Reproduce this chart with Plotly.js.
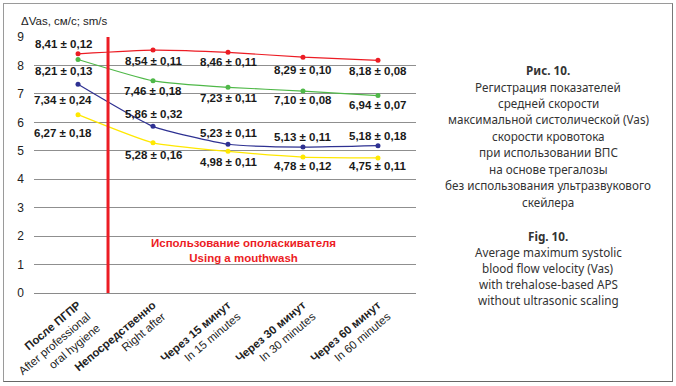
<!DOCTYPE html>
<html><head><meta charset="utf-8">
<script src="https://cdn.plot.ly/plotly-3.0.1.min.js"></script>
<style>
html,body{margin:0;padding:0;background:#fff;}
#chart{width:676px;height:386px;}
#frame{position:absolute;left:3px;top:3px;width:668px;height:377px;border:1.5px solid #9a9a9a;border-right-color:#777;border-bottom-color:#666;pointer-events:none;}
</style></head>
<body>
<div id="chart"></div>
<div id="frame"></div>
<script>
// ---- data ----
const categories = [
  "<b>После ПГПР</b><br>After professional<br>oral hygiene",
  "<b>Непосредственно</b><br>Right after",
  "<b>Через 15 минут</b><br>In 15 minutes",
  "<b>Через 30 минут</b><br>In 30 minutes",
  "<b>Через 60 минут</b><br>In 60 minutes"
];
const redMean    = [8.41, 8.54, 8.46, 8.29, 8.18];
const redSD      = [0.12, 0.11, 0.11, 0.10, 0.08];
const greenMean  = [8.21, 7.46, 7.23, 7.10, 6.94];
const greenSD    = [0.13, 0.18, 0.11, 0.08, 0.07];
const blueMean   = [7.34, 5.86, 5.23, 5.13, 5.18];
const blueSD     = [0.24, 0.32, 0.11, 0.11, 0.18];
const yellowMean = [6.27, 5.28, 4.98, 4.78, 4.75];
const yellowSD   = [0.18, 0.16, 0.11, 0.12, 0.11];
const yTicks = [0,1,2,3,4,5,6,7,8,9];
const yTitle = "ΔVas, см/с; sm/s";
const noteLines = ["Использование ополаскивателя", "Using a mouthwash"];
const captionRu = ["<b>Рис. 10.</b>", "Регистрация показателей", "средней скорости",
  "максимальной систолической (Vas)", "скорости кровотока", "при использовании ВПС",
  "на основе трегалозы", "без использования ультразвукового", "скейлера"];
const captionEn = ["<b>Fig. 10.</b>", "Average maximum systolic", "blood flow velocity (Vas)",
  "with trehalose-based APS", "without ultrasonic scaling"];

// ---- styling ----
const series = [
  {mean: redMean, sd: redSD, color: "#ec1c24", shifts: [10, -11, -10, -13, -11]},
  {mean: greenMean, sd: greenSD, color: "#4fb848", shifts: [-12, -10, -11, -9, -9]},
  {mean: blueMean, sd: blueSD, color: "#2e3192", shifts: [-16, 12, 11, 10, 10]},
  {mean: yellowMean, sd: yellowSD, color: "#ffe800", shifts: [-18, -12, -11, -9, -8]}
];
const fmt = v => v.toFixed(2).replace(".", ",");
const L = 34, R = 416, T = 37, B = 293;
const px2x = px => (px - L) / (R - L);
const px2y = py => (B - py) / (B - T);

const traces = series.map(s => ({
  x: categories, y: s.mean, type: "scatter", mode: "lines+markers",
  line: {color: s.color, width: 1.2, shape: "spline", smoothing: 0.5},
  marker: {color: s.color, size: 5}, hoverinfo: "skip", showlegend: false
}));

const annotations = [];
series.forEach(s => {
  s.mean.forEach((v, i) => {
    annotations.push({
      x: categories[i], y: v, xref: "x", yref: "y",
      text: "<b>" + fmt(v) + " ± " + fmt(s.sd[i]) + "</b>",
      showarrow: false, xanchor: "center", yanchor: "middle",
      xshift: i === 0 ? -15 : 0, yshift: s.shifts[i],
      font: {family: "Liberation Sans, Arial", size: 11.5, color: "#1a1a1a"}
    });
  });
});
annotations.push({
  xref: "paper", yref: "paper", x: px2x(243), y: px2y(250),
  text: "<b>" + noteLines.join("<br>") + "</b>", showarrow: false,
  xanchor: "center", yanchor: "middle",
  font: {family: "Liberation Sans, Arial", size: 11.5, color: "#ec1c24"}
});
annotations.push({
  xref: "paper", yref: "paper", x: px2x(19), y: px2y(21),
  text: yTitle, showarrow: false, xanchor: "left", yanchor: "middle",
  font: {family: "Liberation Sans, Arial", size: 11.5, color: "#222"}
});
const capX = 548;
const capY = [70, 87, 103, 119, 136, 152, 169, 185, 202];
captionRu.forEach((t, i) => annotations.push({
  xref: "paper", yref: "paper", x: px2x(capX), y: px2y(capY[i]), text: t,
  showarrow: false, xanchor: "center", yanchor: "middle",
  font: {family: "Noto Sans", size: 11.7, color: "#333"}
}));
const capY2 = [236, 252, 268, 284, 300];
captionEn.forEach((t, i) => annotations.push({
  xref: "paper", yref: "paper", x: px2x(capX), y: px2y(capY2[i]), text: t,
  showarrow: false, xanchor: "center", yanchor: "middle",
  font: {family: "Noto Sans", size: 11.7, color: "#333"}
}));

const layout = {
  width: 676, height: 386,
  margin: {l: L, r: 676 - R, t: T, b: 386 - B},
  paper_bgcolor: "rgba(0,0,0,0)", plot_bgcolor: "rgba(0,0,0,0)",
  xaxis: {
    type: "category", range: [-0.587, 4.507], tickangle: -40,
    showgrid: false, zeroline: false, showline: true, linecolor: "#8a8a8a", linewidth: 1,
    ticks: "", tickfont: {family: "Liberation Sans, Arial", size: 11.5, color: "#222"},
    fixedrange: true
  },
  yaxis: {
    range: [0, 9], tickvals: yTicks, showgrid: true, gridcolor: "#8f8f8f", gridwidth: 1,
    zeroline: false, showline: false, ticks: "", ticklabelstandoff: 9,
    tickfont: {family: "Liberation Sans, Arial", size: 12, color: "#222"},
    fixedrange: true
  },
  shapes: [{
    type: "line", xref: "x", yref: "y", x0: 0.4, x1: 0.4, y0: 0, y1: 9,
    line: {color: "#ec1c24", width: 3}
  }],
  annotations: annotations
};
Plotly.newPlot("chart", traces, layout, {staticPlot: true, displayModeBar: false});
</script>
</body></html>
